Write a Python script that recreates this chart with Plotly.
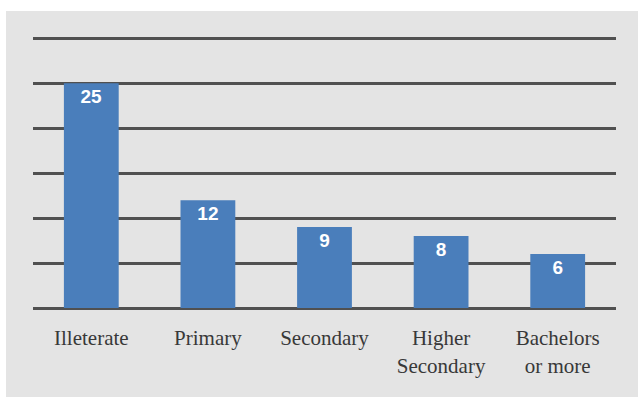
import plotly.graph_objects as go

categories = ["Illeterate", "Primary", "Secondary", "Higher<br>Secondary", "Bachelors<br>or more"]
values = [25, 12, 9, 8, 6]
y_ticks = [0, 5, 10, 15, 20, 25, 30]

fig = go.Figure()
fig.add_trace(go.Bar(
    x=categories, y=values,
    marker=dict(color="#4a7ebb", line=dict(width=0)),
    width=0.47,
    text=[str(v) for v in values],
    textposition="inside",
    insidetextanchor="end",
    textangle=0,
    textfont=dict(family="Liberation Sans", size=19, color="white", weight="bold"),
    cliponaxis=False,
))

H = 271.35
fig.update_layout(
    width=638, height=397,
    margin=dict(l=33, r=22, t=37, b=89),
    paper_bgcolor="#e4e4e4",
    plot_bgcolor="rgba(0,0,0,0)",
    showlegend=False,
    bargap=0.53,
    shapes=[
        dict(type="rect", xref="paper", yref="paper", layer="below",
             x0=-40/583, x1=1 + 40/583, y0=1 + 26/H, y1=1 + 60/H,
             fillcolor="white", line=dict(width=0)),
        dict(type="rect", xref="paper", yref="paper", layer="below",
             x0=-40/583, x1=-27/583, y0=-100/H, y1=1 + 60/H,
             fillcolor="white", line=dict(width=0)),
    ],
)
fig.update_yaxes(
    range=[0, 30.15], tickvals=y_ticks, showticklabels=False,
    showgrid=True, gridcolor="#505050", gridwidth=3,
    zeroline=True, zerolinecolor="#505050", zerolinewidth=3,
    ticks="",
)
fig.update_xaxes(
    showgrid=False, ticks="outside", ticklen=11, tickcolor="rgba(0,0,0,0)",
    tickfont=dict(family="Liberation Serif", size=21, color="#383838"),
    showline=False,
)
fig.write_html(
    "out.html",
    post_script="document.body.style.margin='0';document.body.style.background='#e4e4e4';document.body.style.overflow='hidden';",
)
